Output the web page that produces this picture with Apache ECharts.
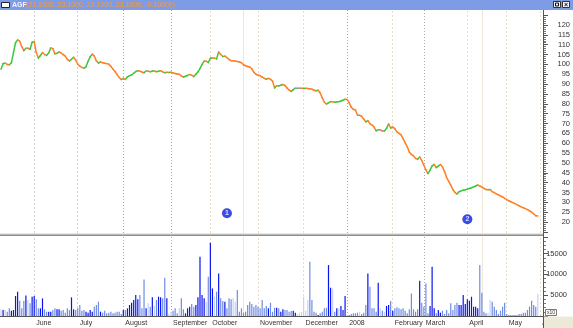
<!DOCTYPE html>
<html><head><meta charset="utf-8">
<script src="https://cdn.jsdelivr.net/npm/echarts@6/dist/echarts.min.js"></script>
<style>html,body{margin:0;padding:0;background:#fff;overflow:hidden}#c{width:573px;height:328px}</style>
</head><body><div id="c"></div>
<script>
// ---------- DATA ----------
const ticker = 'AGF';
const quote = '(23.1000, 23.1000, 23.1000, 23.1000, -0.10000)';
const monthNames  = ['May','June','July','August','September','October','November','December','2008','February','March','April','May','J'];
const monthCounts = [16,21,22,23,19,23,22,21,22,15,21,19,16,2];
const price = [
 97.5,100.5,100.6,100.0,99.8,100.8,106,111,112.4,111.8,
 109,107,108.2,108.2,107.7,111.2,111.5,106,103.2,104.5,
 106,105,104.6,105.8,108.4,108.0,105.4,105.6,106.3,105.8,
 105,104.2,102.5,101.8,102.6,103.6,102.2,100.2,99.1,98.5,
 98.1,98.8,101.6,103.8,105.2,104.2,101.8,100.7,101.3,100.8,
 100.6,100.4,100.1,99,97.6,96.4,94.8,93.4,92.3,92.9,
 92.4,93.7,94.3,94.6,95.5,96.4,96.8,96.6,96.1,95.8,
 96.6,96.6,96.3,96.6,96.7,96.3,96.5,96.8,96.2,95.8,
 96.0,95.9,96.0,95.6,95.4,95.1,95.0,94.2,93.5,94.0,
 94.4,94.9,94.5,93.8,95.0,96.2,97.9,100,101.7,101.6,
 100.9,103.1,103.3,103.2,102.8,106.3,105,104,104.2,103.5,
 102.5,101.9,101.8,101.7,101.5,101.2,100.8,99.8,99.3,98.9,
 98.6,97.8,96,95,94.5,94.3,93.6,92.9,92.5,92.9,
 92.5,91.5,88,89.2,89.0,89.4,89.8,89.3,88.0,87.0,
 86.3,87.2,87.9,87.9,87.9,87.9,87.8,87.9,87.8,87.6,
 87.4,86.9,86.6,86.9,85.5,83,80.8,79.9,80.5,81.1,
 81.0,80.8,81.0,81.1,81.4,81.8,82.3,82.2,80.5,78.2,
 77.2,76.9,74.2,74.2,73.6,72.3,70.8,71.5,69.9,69.2,
 68.2,66.3,66.8,66.8,66.2,66.2,67.5,69.8,67.7,68.2,
 67.4,65.7,65,64.2,62.3,60.2,58.2,55.5,54.3,53.6,
 52.3,51.8,53.0,51.2,48.8,46.5,44.6,46.3,48.5,49.2,
 47.6,48.4,49.2,48.0,45.6,42.6,40.6,38.7,36.5,35.0,
 34.2,35.4,35.8,36.1,36.4,36.7,37.0,37.4,37.8,38.3,
 38.8,38.3,37.7,37.1,36.5,36.4,36.5,35.4,34.9,34.3,
 33.8,33.3,32.7,32.0,31.4,30.8,30.3,29.8,29.3,28.8,
 28.2,27.7,27.2,26.8,26.3,25.7,25.0,24.2,23.2,23.1
];
const volume = [
 1600,1440,1440,1040,1840,1280,1440,4800,5840,3680,1840,3680,4960,3840,3040,4640,
 4800,4000,1840,1840,4240,1600,1040,1040,1040,1440,1840,1600,1600,1280,1440,800,1840,1440,4480,1600,1440,
 1840,2640,1280,1440,1040,800,1440,1040,2240,2640,3440,1040,800,1280,640,800,1040,640,800,1040,1040,480,
 1440,1440,1840,2640,3200,3840,5040,4000,5040,1840,8800,1840,3040,2240,4480,2400,3840,4640,4480,4240,9200,4240,480,
 1040,1280,1840,640,1840,4240,1600,640,1840,2240,2880,2240,2640,4480,14240,5040,4240,3440,9440,
 17600,6640,4640,5840,10240,4240,3600,3440,1840,4240,4000,4240,3440,6240,1040,1840,800,1040,2640,3440,2880,2240,2640,
 2240,1840,3840,1840,2400,1840,3200,1040,2000,2000,1840,1040,1600,1440,1440,1040,1200,1280,800,480,800,1040,
 4640,1280,3840,13040,3840,1040,800,240,640,1040,1840,2000,12240,6800,6640,1040,1840,1840,2400,1440,4800,
 240,240,480,640,640,800,1040,480,800,2640,10240,7040,1840,1840,1040,8000,1840,1280,1040,2400,2640,3600,
 1280,1840,2080,1840,1600,1840,1280,640,1600,5440,1600,1040,1600,8480,3200,
 2240,7840,640,2400,11840,1840,640,1440,800,1280,480,1440,640,3040,1440,2640,3200,2640,2640,5040,2880,
 4000,3680,4640,2240,2240,1840,12240,5600,1040,640,800,3840,3440,2240,1440,480,1280,2240,3200,
 480,240,240,240,240,240,480,480,800,800,1440,2240,3680,2640,2240,5280
];
const priceAxis  = {min: 15, max: 125, step: 5};
const volumeAxis = {min: 0, max: 19000, step: 5000};
const markers = [{i: 109, v: 24.4, label: '1'}, {i: 225, v: 21.4, label: '2'}];
const extraLines = [117, 232];

// ---------- BUILD ----------
const cats = [], labelAt = {};
let idx = 0;
monthNames.forEach((m, mi) => {
  for (let k = 0; k < monthCounts[mi]; k++) {
    cats.push(m + '|' + mi + '|' + k);
    if (k === 0 && mi > 0) labelAt[idx] = m;
    idx++;
  }
});
const UP = '#3cc83c', DOWN = '#ff7f24', FLAT = '#9a9a9a';
const segs = [];
for (let i = 1; i < price.length; i++) segs.push([i, price[i - 1], price[i]]);

const FONT = 'Liberation Sans';
const lightGray = {color: '#d2d2d2', type: [2, 2], width: 1};
const gray = {color: '#a9a9a9', type: [1, 2], width: 1};
const beige = {color: '#e8dccb', type: [2, 2], width: 1};
const beigeSolid = {color: '#efe6d6', type: 'solid', width: 1};
const styleFor = [null, lightGray, lightGray, gray, gray, beige, beige, beige, gray, beige, gray, beige, beige, beige];
const vLines = [];
monthNames.forEach((m, mi) => {
  if (mi === 0) return;
  let s = 0; for (let j = 0; j < mi; j++) s += monthCounts[j];
  vLines.push({xAxis: s, lineStyle: styleFor[mi]});
});
extraLines.forEach(s => vLines.push({xAxis: s, lineStyle: beigeSolid}));
const mkLine = {silent: true, z: 0, symbol: ['none', 'none'], label: {show: false}, animation: false, data: vLines};

function volColor(p) {
  const i = p.dataIndex;
  const d = i > 0 ? price[i] - price[i - 1] : 0;
  if (d > 0.15) return '#0a14f0';
  if (d < -0.15) return '#6f8ce4';
  return '#c6d2f4';
}

const L = -1, R = 30;
const chart = echarts.init(document.getElementById('c'), null, {renderer: 'canvas'});
chart.setOption({
  animation: false,
  backgroundColor: '#ffffff',
  grid: [
    {left: L, right: R, top: 15.15, height: 216.7},
    {left: L, right: R, top: 237, height: 79},
    {left: L, right: R, top: 10, height: 223}
  ],
  xAxis: [
    {gridIndex: 0, type: 'category', data: cats, show: false},
    {gridIndex: 1, type: 'category', data: cats, position: 'bottom',
      axisLine: {lineStyle: {color: '#555', width: 1}},
      axisTick: {alignWithLabel: true, interval: (i) => labelAt[i] !== undefined, length: 12, lineStyle: {color: '#777'}},
      axisLabel: {interval: (i) => labelAt[i] !== undefined, formatter: (v, i) => labelAt[i] || '',
        align: 'left', margin: 4, padding: [0, 0, 0, 2], fontSize: 7, fontFamily: FONT, color: '#333'},
      splitLine: {show: false}},
    {gridIndex: 1, type: 'category', data: cats, position: 'bottom',
      axisLine: {show: false}, axisLabel: {show: false},
      axisTick: {alignWithLabel: true, interval: (i) => i % 5 === 2, length: 3, lineStyle: {color: '#444'}}},
    {gridIndex: 2, type: 'category', data: cats, show: false}
  ],
  yAxis: [
    {gridIndex: 0, type: 'value', position: 'right', min: priceAxis.min, max: priceAxis.max, interval: priceAxis.step,
      axisLine: {show: true, lineStyle: {color: '#555'}},
      axisTick: {show: true, length: 5, lineStyle: {color: '#555'}},
      minorTick: {show: true, splitNumber: 5, length: 3, lineStyle: {color: '#777'}},
      splitLine: {show: false},
      axisLabel: {formatter: (v) => (v === priceAxis.min || v === priceAxis.max) ? '' : String(v),
        align: 'right', margin: 27, fontSize: 7.5, fontFamily: FONT, color: '#333'}},
    {gridIndex: 1, type: 'value', position: 'right', min: volumeAxis.min, max: volumeAxis.max, interval: volumeAxis.step,
      axisLine: {show: true, lineStyle: {color: '#555'}},
      axisTick: {show: true, length: 5, lineStyle: {color: '#555'}},
      minorTick: {show: true, splitNumber: 5, length: 3, lineStyle: {color: '#777'}},
      splitLine: {show: false},
      axisLabel: {formatter: (v) => (v > 0 && v % volumeAxis.step === 0) ? String(v) : '',
        align: 'right', margin: 24, fontSize: 7.5, fontFamily: FONT, color: '#333'}},
    {gridIndex: 2, type: 'value', min: 0, max: 1, show: false}
  ],
  series: [
    {type: 'scatter', xAxisIndex: 3, yAxisIndex: 2, data: [[0, -5]], symbolSize: 0, z: 0, silent: true, markLine: mkLine},
    {type: 'scatter', xAxisIndex: 1, yAxisIndex: 1, data: [[0, -5000]], symbolSize: 0, z: 0, silent: true, markLine: mkLine},
    {type: 'bar', xAxisIndex: 1, yAxisIndex: 1, data: volume, barWidth: 1.2, z: 2,
      itemStyle: {color: volColor}},
    {type: 'custom', xAxisIndex: 0, yAxisIndex: 0, data: segs, z: 3, encode: {x: 0, y: [1, 2]},
      renderItem: (params, api) => {
        const i = api.value(0), a = api.value(1), b = api.value(2);
        const p0 = api.coord([i - 1, a]), p1 = api.coord([i, b]);
        const d = b - a;
        return {type: 'line', shape: {x1: p0[0], y1: p0[1], x2: p1[0], y2: p1[1]},
          style: {stroke: d > 0 ? UP : (d < 0 ? DOWN : FLAT), lineWidth: 1.5, lineCap: 'round'}};
      }},
    {type: 'scatter', xAxisIndex: 0, yAxisIndex: 0, z: 4, symbol: 'circle', symbolSize: 10,
      itemStyle: {color: '#0a1ee0'},
      label: {show: true, position: 'inside', formatter: '{b}', color: '#fff', fontSize: 7, fontWeight: 'bold', fontFamily: FONT},
      data: markers.map(m => ({name: m.label, value: [m.i, m.v]}))}
  ],
  graphic: [
    {type: 'rect', shape: {x: 0, y: 0, width: 573, height: 10}, style: {fill: '#7e9be6'}, z: 100},
    {type: 'rect', shape: {x: 1.5, y: 2.5, width: 8, height: 5}, style: {fill: '#fff', stroke: '#222', lineWidth: 1}, z: 101},
    {type: 'text', x: 12, y: 5, style: {text: ticker, fill: '#f4f4ff', font: 'bold 7px "Liberation Sans"', textVerticalAlign: 'middle'}, z: 101},
    {type: 'text', x: 26, y: 5, style: {text: quote, fill: '#ff9a2e', font: '7px "Liberation Sans"', textVerticalAlign: 'middle'}, z: 101},
    {type: 'rect', shape: {x: 553.5, y: 1.5, width: 7, height: 6}, style: {fill: '#f4f4f4', stroke: '#333', lineWidth: 1}, z: 101},
    {type: 'rect', shape: {x: 555.5, y: 3, width: 3, height: 3}, style: {fill: 'none', stroke: '#111', lineWidth: 1}, z: 102},
    {type: 'rect', shape: {x: 562.5, y: 1.5, width: 7, height: 6}, style: {fill: '#f4f4f4', stroke: '#333', lineWidth: 1}, z: 101},
    {type: 'text', x: 566, y: 4.8, style: {text: '×', fill: '#111', font: 'bold 7px "Liberation Sans"', textAlign: 'center', textVerticalAlign: 'middle'}, z: 102},
    {type: 'rect', shape: {x: 0, y: 233.5, width: 543, height: 1}, style: {fill: '#cfcfcf'}, z: 50},
    {type: 'rect', shape: {x: 0, y: 234.5, width: 543, height: 1.5}, style: {fill: '#8e8e8e'}, z: 50},
    {type: 'line', shape: {x1: 543.5, y1: 10, x2: 543.5, y2: 328}, style: {stroke: '#555', lineWidth: 1}, z: 50},
    {type: 'rect', shape: {x: 544, y: 316.5, width: 29, height: 12}, style: {fill: '#ece9d8'}, z: 50},
    {type: 'rect', shape: {x: 545.5, y: 309.5, width: 11, height: 6}, style: {fill: '#fff', stroke: '#777', lineWidth: 1}, z: 51},
    {type: 'text', x: 551, y: 312.6, style: {text: 'x10', fill: '#333', font: '5px "Liberation Sans"', textAlign: 'center', textVerticalAlign: 'middle'}, z: 52}
  ]
});
</script></body></html>
